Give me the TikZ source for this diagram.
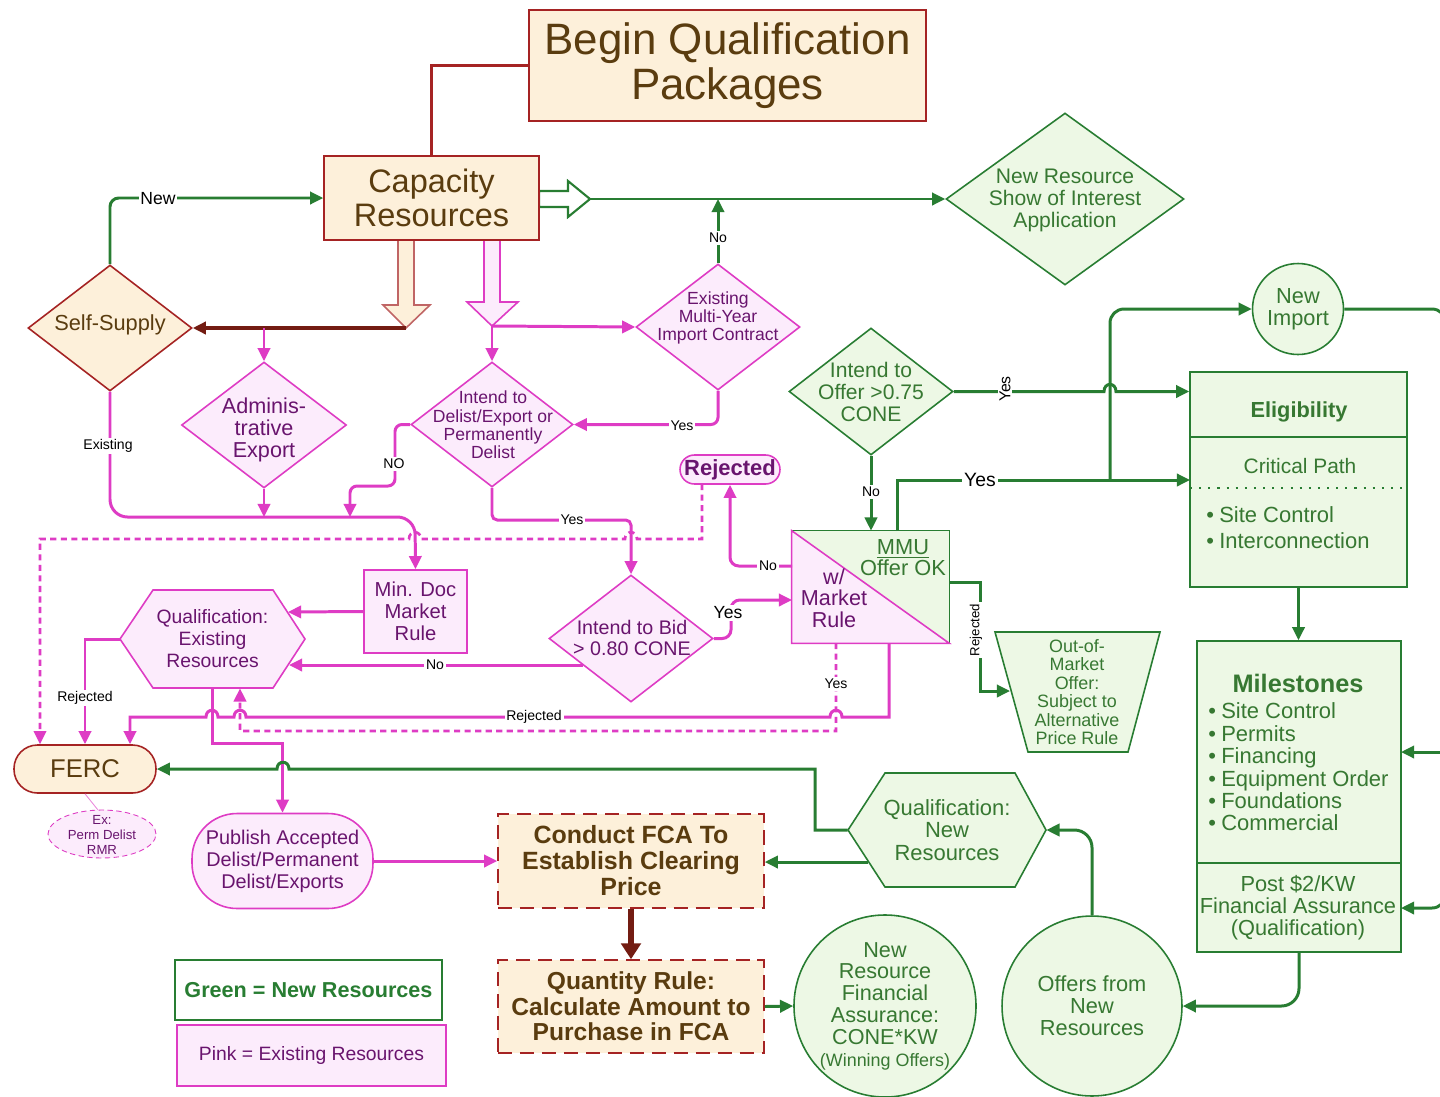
\documentclass[tikz,border=0pt]{standalone}
\usepackage{fontspec}
\setmainfont{Liberation Sans}
\usetikzlibrary{arrows.meta,shapes.geometric,calc}
\definecolor{pl}{RGB}{222,60,196}
\definecolor{pf}{RGB}{252,236,252}
\definecolor{pt}{RGB}{105,20,110}
\definecolor{gl}{RGB}{40,125,50}
\definecolor{gf}{RGB}{237,248,229}
\definecolor{gt}{RGB}{55,120,50}
\definecolor{bl}{RGB}{165,35,35}
\definecolor{bf}{RGB}{253,240,218}
\definecolor{bt}{RGB}{90,60,15}
\definecolor{db}{RGB}{115,28,18}
\newcommand\fsz[2]{\fontsize{#1}{#2}\selectfont}
\begin{document}
\begin{tikzpicture}[x=0.02cm,y=-0.02cm,
 >={Triangle[length=7.5pt,width=7pt]},
 txt/.style={align=center, inner sep=0pt},
 bnode/.style={draw=bl, fill=bf, text=bt, line width=0.9pt, align=center, inner sep=0pt},
 pnode/.style={draw=pl, fill=pf, text=pt, line width=0.9pt, align=center, inner sep=0pt},
 gnode/.style={draw=gl, fill=gf, text=gt, line width=0.9pt, align=center, inner sep=0pt},
 pshape/.style={draw=pl, fill=pf, line width=0.9pt},
 gshape/.style={draw=gl, fill=gf, line width=0.9pt},
 dia/.style={diamond, aspect=1.3, inner sep=0pt},
 pline/.style={draw=pl, line width=1.7pt},
 gline/.style={draw=gl, line width=1.7pt},
 bline/.style={draw=bl, line width=1.3pt},
 pdash/.style={draw=pl, line width=1.5pt, dash pattern=on 3.5pt off 2.5pt},
 lbl/.style={fill=white, inner sep=1pt, text=black, font=\fsz{8}{8}},
]
\useasboundingbox (0,0) rectangle (1440,1096);
\fill[white] (0,0) rectangle (1440,1096);

% ---------- coordinates ----------
\coordinate (btip) at (406,328);
\coordinate (ptip) at (492,326);
\coordinate (gtip) at (590,199);
\coordinate (hl) at (0,517);
\coordinate (qeR1) at (288,612);
\coordinate (qeR2) at (289,665);
\coordinate (ibidL) at (583,665);
\coordinate (mmuL1) at (792,566);
\coordinate (mmuL2) at (792,600);
\coordinate (mmuT) at (897,531);
\coordinate (mmuR) at (949,582);
\coordinate (mmuB1) at (889,643);
\coordinate (mmuB2) at (836,643);
\coordinate (eligL2) at (1190,480);
\coordinate (jn) at (1110,480);
\coordinate (oomL) at (1010,691);
\coordinate (qnL2) at (868,862);
\coordinate (mileR) at (1401,752);
\coordinate (postR) at (1401,908);
\coordinate (rejB) at (702,484);

% ---------- hollow arrows ----------
\filldraw[draw=bl!70, fill=bf, line width=0.9pt] (398,240) -- (398,305) -- (383,305) -- (btip) -- (430,305) -- (414,305) -- (414,240) -- cycle;
\filldraw[draw=pl, fill=pf, line width=0.9pt] (484,240) -- (484,302) -- (467,302) -- (ptip) -- (518,302) -- (500,302) -- (500,240) -- cycle;
\filldraw[draw=gl, fill=white, line width=1.2pt] (539,191) -- (568,191) -- (568,181) -- (gtip) -- (568,217) -- (568,207) -- (539,207) -- cycle;

% ---------- nodes ----------
\node[bnode, minimum width=7.94cm, minimum height=2.22cm, font=\fsz{25}{25.5}] (beg) at (727.5,65.5) {Begin Qualification\\Packages};
\node[bnode, minimum width=4.3cm, minimum height=1.68cm, font=\fsz{18.5}{19}] (cap) at (431.5,198) {Capacity\\Resources};

\node[dia, bnode, minimum width=3.28cm, minimum height=2.52cm] (ss) at (110,328) {};
\node[txt, text=bt, font=\fsz{12.4}{13}] at (110,325) {Self-Supply};

\node[dia, pnode, minimum width=3.3cm, minimum height=2.52cm] (adm) at (264,425) {};
\node[txt, text=pt, font=\fsz{12.3}{12.5}] at (264,430) {Adminis-\\trative\\Export};

\node[dia, pnode, minimum width=3.28cm, minimum height=2.52cm] (emy) at (718,327) {};
\node[txt, text=pt, font=\fsz{10}{10.3}] at (718,318) {Existing\\Multi-Year\\Import Contract};

\node[dia, pnode, minimum width=3.24cm, minimum height=2.5cm] (idl) at (492,424.5) {};
\node[txt, text=pt, font=\fsz{10}{10.5}] at (493,425) {Intend to\\Delist/Export or\\Permanently\\Delist};

\node[dia, gnode, minimum width=4.76cm, minimum height=3.44cm] (nrsi) at (1065,199) {};
\node[txt, text=gt, font=\fsz{12}{12.5}] at (1065,200) {New Resource\\Show of Interest\\Application};

\node[dia, gnode, minimum width=3.28cm, minimum height=2.54cm] (ito) at (871,391.5) {};
\node[txt, text=gt, font=\fsz{12}{12.3}] at (871,392) {Intend to\\Offer >0.75\\CONE};

\node[dia, pnode, minimum width=3.28cm, minimum height=2.54cm] (ibid) at (631,638.5) {};
\node[txt, text=pt, font=\fsz{11.2}{12}] at (632,638) {Intend to Bid\\> 0.80 CONE};

\node[pnode, minimum width=2.06cm, minimum height=1.66cm, font=\fsz{11.5}{12.5}] (mindoc) at (415.5,611.5) {Min. Doc\\Market\\Rule};

\filldraw[pshape] (120,639) -- (153,590) -- (273,590) -- (305,639) -- (273,688) -- (153,688) -- cycle;
\node[txt, text=pt, minimum width=3.7cm, minimum height=1.96cm, font=\fsz{11}{12.5}] (qe) at (212.5,639) {Qualification:\\Existing\\Resources};

\node[pnode, rounded corners=0.29cm, minimum width=2cm, minimum height=0.58cm, font=\bfseries\fsz{12.5}{13}] (rej) at (730,469.5) {Rejected};

% MMU box
\node[minimum width=3.14cm, minimum height=2.24cm, inner sep=0pt] (mmu) at (870.5,587) {};
\fill[gf] (mmu.north west) -- (mmu.north east) -- (mmu.south east) -- cycle;
\fill[pf] (mmu.north west) -- (mmu.south west) -- (mmu.south east) -- cycle;
\draw[gl, line width=0.9pt] (mmu.north west) -- (mmu.north east) -- (mmu.south east);
\draw[pl, line width=0.9pt] (mmu.north west) -- (mmu.south west) -- (mmu.south east) -- cycle;
\node[txt, text=gt, font=\fsz{12.4}{12}] (mmut) at (903,558) {\underline{MMU}\\Offer OK};
\node[txt, text=pt, font=\fsz{12.3}{12.3}] (mmup) at (834,598) {w/\\Market\\Rule};

% Out-of-market trapezoid
\filldraw[gshape] (995,632) -- (1160,632) -- (1128,752) -- (1028,752) -- cycle;
\node[txt, text=gt, minimum width=3.3cm, minimum height=2.4cm, font=\fsz{10.2}{10.5}] (oom) at (1077,692) {Out-of-\\Market\\Offer:\\Subject to\\Alternative\\Price Rule};

% Eligibility
\node[gnode, minimum width=4.34cm, minimum height=4.3cm] (elig) at (1298.5,479.5) {};
\draw[gl, line width=1.4pt] (1190,437) -- (1407,437);
\node[txt, text=gt, font=\bfseries\fsz{12.4}{12.5}] at (1299,412) {Eligibility};
\node[txt, text=gt, font=\fsz{11.9}{12}] at (1300,466) {Critical Path};
\draw[gl, line width=1.2pt, dash pattern=on 1.2pt off 4pt] (1190,488) -- (1407,488);
\node[txt, text=gt, anchor=west, align=left, font=\fsz{12.5}{14.8}] at (1206,528) {\textbullet\hspace{3pt}Site Control\\\textbullet\hspace{3pt}Interconnection};

% Milestones
\node[gnode, minimum width=4.08cm, minimum height=6.22cm] (mile) at (1299,796.5) {};
\draw[gl, line width=0.9pt] (1197,863) -- (1401,863);
\node[txt, text=gt, font=\bfseries\fsz{14.4}{14.5}] at (1298,683) {Milestones};
\node[txt, text=gt, anchor=west, align=left, font=\fsz{12.5}{12.75}] at (1208,767) {\textbullet\hspace{3pt}Site Control\\\textbullet\hspace{3pt}Permits\\\textbullet\hspace{3pt}Financing\\\textbullet\hspace{3pt}Equipment Order\\\textbullet\hspace{3pt}Foundations\\\textbullet\hspace{3pt}Commercial};
\node[txt, text=gt, font=\fsz{12.4}{12.5}] at (1298,908) {Post \$2/KW\\Financial Assurance\\(Qualification)};

\node[circle, gnode, minimum size=1.82cm, font=\fsz{12.4}{12.5}] (ni) at (1298,309) {New\\Import};

% bottom
\node[bnode, rounded corners=0.47cm, minimum width=2.84cm, minimum height=0.96cm, font=\fsz{14.6}{15}] (ferc) at (85,769) {FERC};
\node[ellipse, draw=pl, fill=pf, line width=0.5pt, densely dashed, minimum width=2.16cm, minimum height=0.96cm, inner sep=0pt] (ex) at (102,834) {};
\node[txt, text=pt, font=\fsz{7.5}{8.3}] at (102,835) {Ex:\\Perm Delist\\RMR};
\node[pnode, rounded corners=0.9cm, minimum width=3.62cm, minimum height=1.9cm, font=\fsz{11.3}{12.5}] (pub) at (282.5,861) {Publish Accepted\\Delist/Permanent\\Delist/Exports};
\node[bnode, dash pattern=on 8pt off 4.5pt, minimum width=5.32cm, minimum height=1.88cm, font=\bfseries\fsz{14.2}{14.8}] (fca) at (631,861) {Conduct FCA To\\Establish Clearing\\Price};
\node[bnode, dash pattern=on 8pt off 4.5pt, minimum width=5.32cm, minimum height=1.86cm, font=\bfseries\fsz{14}{14.5}] (qr) at (631,1006.5) {Quantity Rule:\\Calculate Amount to\\Purchase in FCA};
\node[circle, gnode, minimum size=3.64cm, font=\fsz{12.3}{12.4}] (nrfa) at (885,1006) {New\\Resource\\Financial\\Assurance:\\CONE*KW\\{\fsz{10.2}{10.2}(Winning Offers)}};
\node[circle, gnode, minimum size=3.6cm, font=\fsz{12.4}{12.5}] (ofr) at (1092,1006) {Offers from\\New\\Resources};
\filldraw[gshape] (848,830) -- (885,773) -- (1015,773) -- (1046,830) -- (1015,887) -- (885,887) -- cycle;
\node[txt, text=gt, minimum width=3.96cm, minimum height=2.28cm, font=\fsz{12.5}{12.6}] (qn) at (947,830) {Qualification:\\New\\Resources};

% legend
\node[draw=gl, fill=white, line width=0.9pt, minimum width=5.34cm, minimum height=1.2cm, text=gl, inner sep=0pt, font=\bfseries\fsz{12.3}{12.5}] (leg1) at (308.5,990) {Green = New Resources};
\node[pnode, minimum width=5.38cm, minimum height=1.22cm, font=\fsz{11}{12}] (leg2) at (311.5,1055.5) {Pink = Existing Resources};

% ---------- connectors ----------
\draw[bline] (beg.west) -| (cap.north);
\draw[gline, ->, rounded corners=5pt] (ss.north) |- (cap.west);
\node[lbl, font=\fsz{10}{10}] at (158,199) {New};
\draw[db, line width=1.8pt, ->] (btip) -- (ss.east);
\draw[pline, ->] (adm.north |- btip) -- (adm.north);
\draw[pline, ->] (ptip) -- (emy.west);
\draw[pline, ->] (ptip) -- (idl.north);
\draw[gline, ->] (gtip) -- (nrsi.west);
\draw[gline, ->] (emy.north) -- (emy.north |- gtip);
\node[lbl] at (718,238) {No};
\draw[pline, ->, rounded corners=4pt] (emy.south) |- (idl.east);
\node[lbl] at (682,426) {Yes};
\draw[pline, ->, rounded corners=4pt] (idl.west) -| (395,486) -| (350,517);
\node[lbl] at (394,464) {NO};
\draw[pline, ->, rounded corners=10pt] (ss.south) |- (415,517) -- (mindoc.north);
\node[lbl] at (108,446) {Existing};
\draw[pline, ->] (adm.south) -- (adm.south |- hl);
\draw[pline, ->] (mindoc.west) -- (qeR1);
\draw[pline, ->, rounded corners=3pt] (idl.south) |- (631,520) -- (ibid.north);
\node[lbl] at (572,520) {Yes};
\draw[pline, ->] (ibidL) -- (qeR2);
\node[lbl] at (435,665) {No};
\draw[pline, ->, rounded corners=5pt] (ibid.east) -| (731,600) -- (mmuL2);
\node[lbl, font=\fsz{10}{10}] at (728,613) {Yes};
\draw[pline, ->, rounded corners=5pt] (mmuL1) -| (rej.south);
\node[lbl] at (768,566) {No};
\draw[pdash, ->] (rejB) -- (702,539) -- (637,539) .. controls (637,530) and (625,530) .. (625,539) -- (421,539) .. controls (421,530) and (409,530) .. (409,539) -- (40,539) -- ($(ferc.north)+(-45,0)$);
\draw[gline, ->] (ito.south) -- (ito.south |- mmu.north);
\node[lbl] at (871,492) {No};
\draw[gline, ->] (mmuT) |- (eligL2);
\node[lbl, font=\fsz{11}{11}] at (980,480) {Yes};
\draw[gline, ->, rounded corners=8pt] (jn) |- (ni.west);
\draw[gline, ->] (ito.east) -- (1104,391.5) .. controls (1104,382) and (1116,382) .. (1116,391.5) -- (ito.east -| elig.west);
\node[lbl, rotate=90, font=\fsz{9}{9}] at (1005,389) {Yes};
\draw[gline, ->] (mmuR) -| (980,691) -- (oomL);
\node[lbl, rotate=90, font=\fsz{7.5}{7.5}] at (976,630) {Rejected};
\draw[pline, ->] (mmuB1) -- (889,717) -- (842,717) .. controls (842,708) and (830,708) .. (830,717) -- (246,717) .. controls (246,708) and (234,708) .. (234,717) -- (218,717) .. controls (218,708) and (206,708) .. (206,717) -- (130,717) -- ($(ferc.north)+(45,0)$);
\node[lbl] at (534,717) {Rejected};
\draw[pdash, ->] (mmuB2) -- (836,731) -- (240,731) -- ($(qe.south)+(27.5,0)$);
\node[lbl] at (836,684) {Yes};
\draw[pline, ->] (qe.west) -| (ferc.north);
\node[lbl] at (85,698) {Rejected};
\draw[pline, ->] (qe.south) |- (282.5,743) -- (pub.north);
\draw[gline, ->] (qn.west) -- (815,830) -- (815,769) -- (289,769) .. controls (289,760) and (277,760) .. (277,769) -- (ferc.east);
\draw[gline, ->] (qnL2) -- (qnL2 -| fca.east);
\draw[db, line width=3.5pt, -{Triangle[length=9pt,width=11pt]}] (fca.south) -- (qr.north);
\draw[gline, ->] (qr.east) -- (nrfa.west);
\draw[pline, ->] (pub.east) -- (pub.east -| fca.west);
\draw[gline, ->, rounded corners=10pt] (ofr.north) |- (qn.east);
\draw[gline, ->, rounded corners=10pt] (mile.south) |- (ofr.east);
\draw[gline, ->] (elig.south) -- (elig.south |- mile.north);
\draw[gline, ->, rounded corners=8pt] (ni.east) -- (1446,309) -- (1446,908) -- (postR);
\draw[gline, ->] (1446,752) -- (mileR);
\draw[pl!60, line width=0.5pt] (ferc.south) -- (ex.100);
\end{tikzpicture}
\end{document}
